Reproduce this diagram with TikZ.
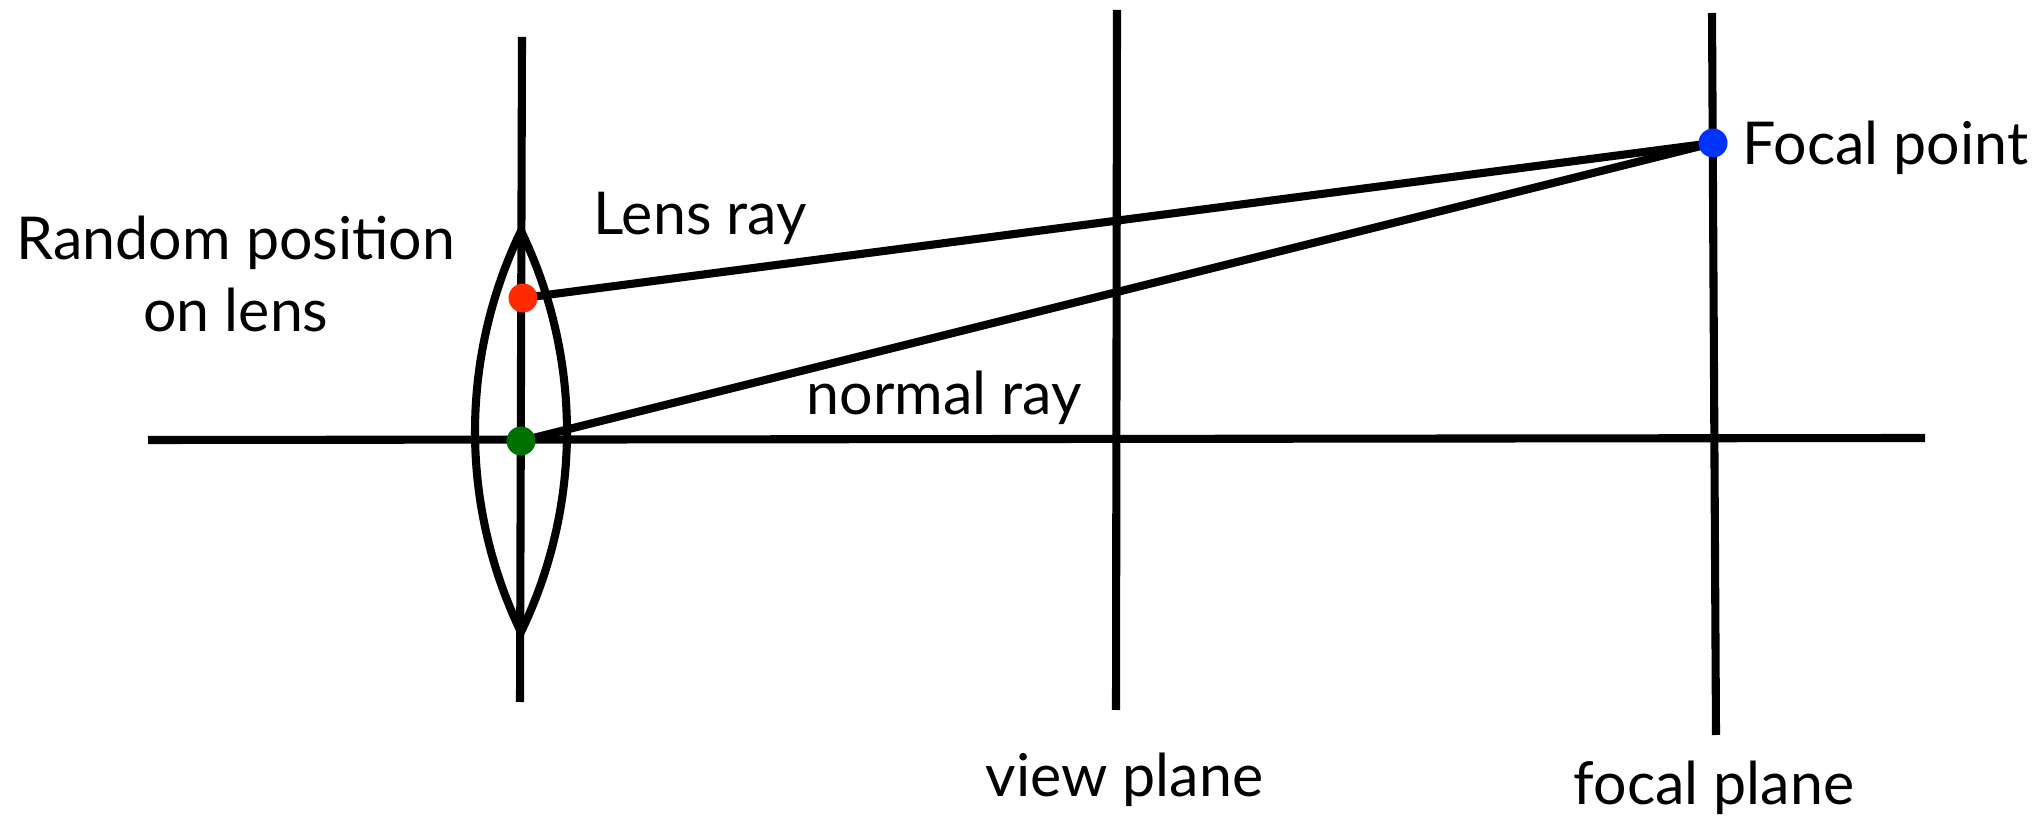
\documentclass[tikz,border=0pt]{standalone}
\usepackage{fontspec}
\setmainfont{Lato}
\begin{document}
\begin{tikzpicture}[x=0.01cm,y=-0.01cm,
  ln/.style={line width=2.3pt, black},
  dot/.style={circle, inner sep=0pt, minimum size=0.29cm},
  lbl/.style={font=\fontsize{16.8}{20.5}\selectfont, inner sep=0pt, anchor=base west}]
\useasboundingbox (0,0) rectangle (2039,819);
% key points
\coordinate (lensTop) at (522,37);
\coordinate (lensBot) at (520,702);
\coordinate (tipT) at (521,231);
\coordinate (tipB) at (521,632);
\coordinate (axL) at (148,440);
\coordinate (axR) at (1925,438);
\coordinate (vpT) at (1117,10);
\coordinate (vpB) at (1116,710);
\coordinate (fpT) at (1712,13);
\coordinate (fpB) at (1716,735);
\coordinate (pR) at (523,298);
\coordinate (pG) at (521,441);
\coordinate (pB) at (1713,143);
% lines
\draw[ln] (axL) -- (axR);
\draw[ln] (lensTop) -- (lensBot);
\draw[ln] (vpT) -- (vpB);
\draw[ln] (fpT) -- (fpB);
\draw[ln] (tipT) .. controls (459.7,358) and (459.7,505) .. (tipB);
\draw[ln] (tipT) .. controls (582.3,358) and (582.3,505) .. (tipB);
\draw[ln] (pR) -- (pB);
\draw[ln] (pG) -- (pB);
% dots
\node[dot, fill={rgb,255:red,255;green,42;blue,0}] (red) at (pR) {};
\node[dot, fill={rgb,255:red,0;green,112;blue,0}] (green) at (pG) {};
\node[dot, fill={rgb,255:red,0;green,51;blue,255}] (blue) at (pB) {};
% labels
\node[lbl] (lfocal) at (1742,165) {Focal point};
\node[lbl, anchor=base, align=center] (lrand) at (236,332) {Random position\\on lens};
\node[lbl] (llens) at (593,235) {Lens ray};
\node[lbl] (lnormal) at (806,415) {normal ray};
\node[lbl] (lview) at (985,797) {view plane};
\node[lbl] (lfplane) at (1573,805) {focal plane};
\end{tikzpicture}
\end{document}
